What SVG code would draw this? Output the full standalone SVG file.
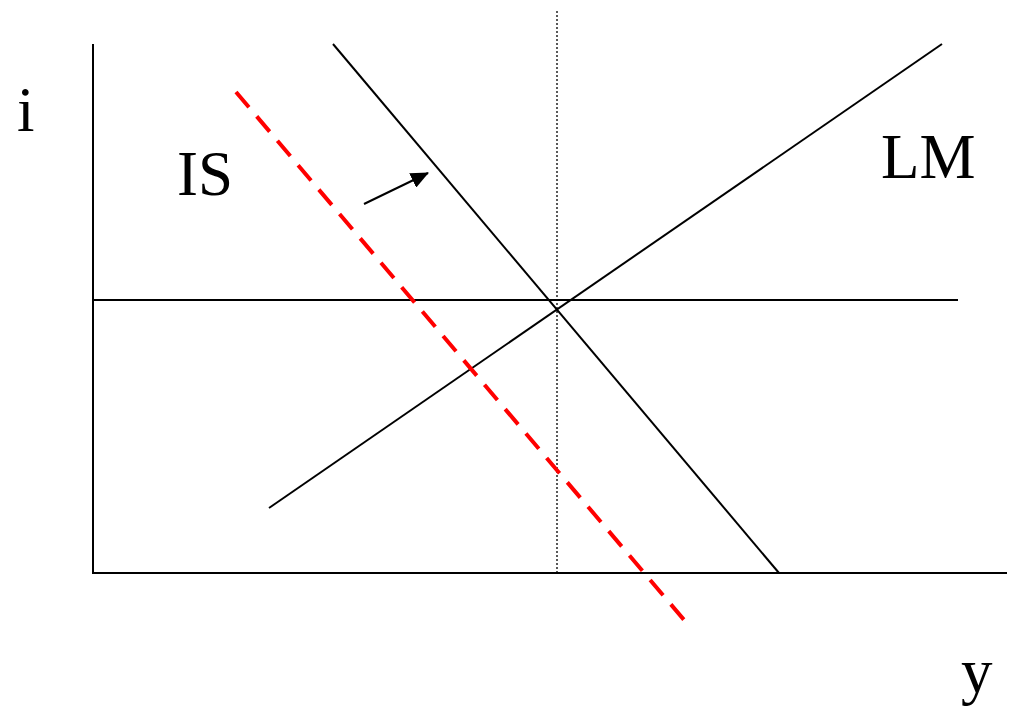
<svg xmlns="http://www.w3.org/2000/svg" width="1009" height="706" viewBox="0 0 1009 706">
<style>
.ax{stroke:#000;stroke-width:2;fill:none}
.ln{stroke:#000;stroke-width:2;fill:none}
.lbl{font-family:"Liberation Serif","Times New Roman",serif;font-size:63px;fill:#000}
</style>
<defs>
<marker id="ah" markerWidth="10" markerHeight="10" refX="9" refY="5" orient="auto" markerUnits="userSpaceOnUse" viewBox="0 0 10 10">
<path d="M0,0 L10,5 L0,10 z" fill="#000"/>
</marker>
<marker id="ah2" markerWidth="18" markerHeight="16" refX="17" refY="8" orient="auto" markerUnits="userSpaceOnUse" viewBox="0 0 18 16">
<path d="M0,0 L18,8 L0,16 z" fill="#000"/>
</marker>
</defs>
<rect width="1009" height="706" fill="#fff"/>
<g id="axes">
<line class="ax" x1="93" y1="44" x2="93" y2="573"/>
<line class="ax" x1="92" y1="573" x2="1007" y2="573"/>
</g>
<g id="connectors">
<line class="ln" x1="93" y1="300" x2="958" y2="300"/>
<line x1="557" y1="11" x2="557" y2="573" stroke="#000" stroke-width="1.3" stroke-dasharray="2,2"/>
<line id="IS-line" class="ln" x1="333" y1="44" x2="779" y2="573"/>
<line id="LM-line" class="ln" x1="269" y1="508" x2="942" y2="44"/>
<line id="IS-shift" x1="236" y1="92" x2="685" y2="621" stroke="#ff0000" stroke-width="4" stroke-dasharray="20,12"/>
<line x1="364" y1="204" x2="428" y2="173" stroke="#000" stroke-width="2" marker-end="url(#ah2)"/>
</g>
<g id="label-i"><text class="lbl" x="17" y="131">i</text></g>
<g id="label-IS"><text class="lbl" x="177" y="195">IS</text></g>
<g id="label-LM"><text class="lbl" x="881" y="178">LM</text></g>
<g id="label-y"><text class="lbl" x="961" y="692">y</text></g>
</svg>
